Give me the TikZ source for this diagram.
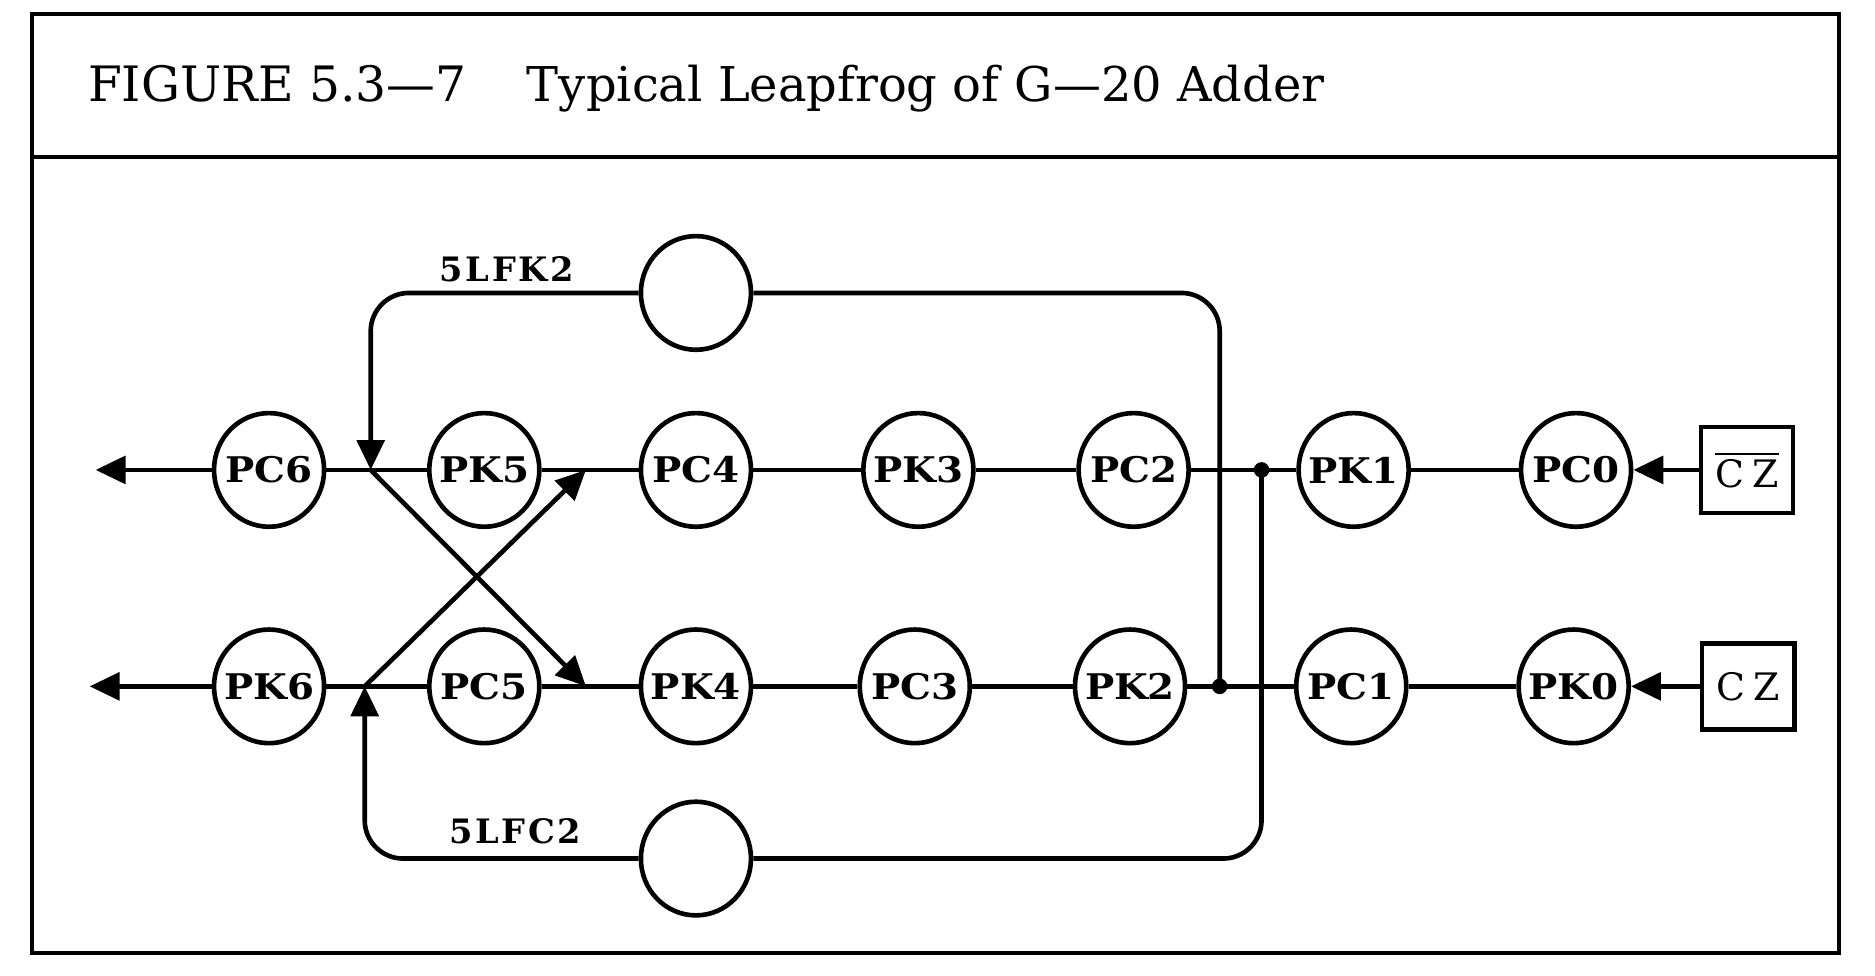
\documentclass[tikz,border=0pt]{standalone}
\usepackage{fontspec}
\setmainfont{DejaVu Serif}
\usetikzlibrary{arrows.meta,shapes.geometric}

\tikzset{
    gate/.style={draw, ellipse, line width=1.1pt, inner ysep=0pt, inner xsep=-0.14cm,
        minimum width=0.92cm, minimum height=0.95cm,
        font=\fontsize{8.4}{10}\selectfont\bfseries\addfontfeatures{FakeStretch=1.1}},
    czbox/.style={draw, rectangle, line width=1.1pt, inner sep=0pt,
        minimum width=0.77cm, minimum height=0.72cm, font=\fontsize{9}{11}\selectfont},
    lflabel/.style={font=\fontsize{8}{10}\selectfont\bfseries\addfontfeatures{LetterSpace=8}},
    wire/.style={line width=1.1pt},
    flow/.style={wire, -{Triangle[length=0.25cm,width=0.23cm]}},
    dot/.style={circle, fill, inner sep=0pt, minimum size=0.13cm},
}

\begin{document}
\begin{tikzpicture}[x=0.01cm, y=0.01cm]
    \useasboundingbox (0,0) rectangle (1568,816);

    \def \rk {423};
    \def \rc {242};

    % frame and title
    \draw[line width=1pt] (27,19) rectangle (1538,804);
    \draw[line width=1pt] (27,685) -- (1538,685);
    \node[anchor=base west, inner sep=0pt, font=\fontsize{11.6}{14}\selectfont] (fignum) at (73,731) {FIGURE 5.3—7};
    \node[anchor=base west, inner sep=0pt, font=\fontsize{11.4}{14}\selectfont] (figtitle) at (440,731) {Typical Leapfrog of G—20 Adder};

    % kill / carry chains
    \foreach \name/\lbl/\x in {pc6/PC6/225, pk5/PK5/405, pc4/PC4/582, pk3/PK3/768,
                               pc2/PC2/948, pk1/PK1/1132, pc0/PC0/1318}
        \node[gate] (\name) at (\x, \rk) {\lbl};
    \foreach \name/\lbl/\x in {pk6/PK6/225, pc5/PC5/405, pk4/PK4/582, pc3/PC3/765,
                               pk2/PK2/945, pc1/PC1/1130, pk0/PK0/1316}
        \node[gate] (\name) at (\x, \rc) {\lbl};

    % leapfrog gates
    \node[gate] (lfk) at (582, 571) {};
    \node[gate] (lfc) at (582, 98) {};
    \node[lflabel] (lfktext) at (424, 591) {5LFK2};
    \node[lflabel] (lfctext) at (431, 121) {5LFC2};

    % inputs
    \node[czbox] (czbar) at (1461, \rk) {$\overline{\hbox{C\kern0.22em Z}}$};
    \node[czbox] (cz) at (1462, \rc) {C\kern0.22em Z};

    \coordinate (outk) at (80, \rk);
    \coordinate (outc) at (75, \rc);
    \coordinate (kin) at (310, \rk);
    \coordinate (cin) at (305, \rc);
    \coordinate (kx) at (490, \rc);
    \coordinate (cx) at (490, \rk);
    \coordinate (ktap) at (1020, \rc);
    \coordinate (ctap) at (1055, \rk);

    \draw[wire] (pc6) -- (pk5) -- (pc4) -- (pk3) -- (pc2) -- (pk1) -- (pc0);
    \draw[wire] (pk6) -- (pc5) -- (pk4) -- (pc3) -- (pk2) -- (pc1) -- (pk0);
    \draw[flow] (pc6) -- (outk);
    \draw[flow] (pk6) -- (outc);
    \draw[flow] (czbar) -- (pc0);
    \draw[flow] (cz) -- (pk0);

    % leapfrog paths
    \draw[wire, rounded corners=0.32cm] (lfk.east) -| (ktap);
    \draw[flow, rounded corners=0.32cm] (lfk.west) -| (kin);
    \draw[wire, rounded corners=0.32cm] (lfc.east) -| (ctap);
    \draw[flow, rounded corners=0.32cm] (lfc.west) -| (cin);
    \draw[flow] (kin) -- (kx);
    \draw[flow] (cin) -- (cx);
    \node[dot] (kdot) at (ktap) {};
    \node[dot] (cdot) at (ctap) {};
\end{tikzpicture}
\end{document}
